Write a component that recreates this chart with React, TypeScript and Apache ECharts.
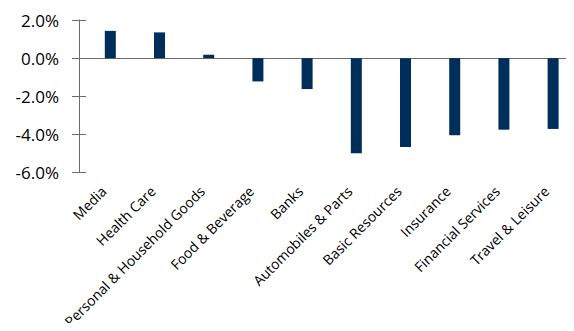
import React, { useEffect, useRef } from "react";
import * as echarts from "echarts";

const categories = [
  "Media",
  "Health Care",
  "Personal & Household Goods",
  "Food & Beverage",
  "Banks",
  "Automobiles & Parts",
  "Basic Resources",
  "Insurance",
  "Financial Services",
  "Travel & Leisure",
];
const values = [1.43, 1.35, 0.18, -1.22, -1.62, -4.98, -4.65, -4.04, -3.75, -3.71];
const emptyValues = categories.map(() => null);
const yMin = -6;
const yMax = 2;
const yStep = 2;

export default function App() {
  const ref = useRef<HTMLDivElement>(null);
  useEffect(() => {
    if (!ref.current) return;
    const chart = echarts.init(ref.current, null, { renderer: "svg" });
    const axisColor = "#6b6b6b";
    chart.setOption({
      animation: false,
      grid: { left: 79, right: 3, top: 20, bottom: 157, containLabel: false },
      xAxis: [
        {
          type: "category",
          data: categories,
          position: "bottom",
          axisLine: { onZero: true, lineStyle: { color: axisColor, width: 1 } },
          axisTick: { inside: true, length: 5, lineStyle: { color: axisColor } },
          axisLabel: { show: false },
          splitLine: { show: false },
        },
        {
          type: "category",
          data: categories,
          position: "bottom",
          axisLine: { show: false, onZero: false },
          axisTick: { show: false },
          axisLabel: {
            rotate: 45,
            margin: 16,
            color: "#000",
            fontFamily: "Open Sans",
            fontSize: 14,
            interval: 0,
          },
          splitLine: { show: false },
        },
      ],
      yAxis: [
        {
          type: "value",
          min: yMin,
          max: yMax,
          interval: yStep,
          position: "left",
          axisLine: { show: true, lineStyle: { color: axisColor } },
          axisTick: { show: true, length: 7, lineStyle: { color: axisColor } },
          axisLabel: {
            margin: 20,
            color: "#000",
            fontFamily: "Open Sans",
            fontSize: 17,
            formatter: (v: number) => v.toFixed(1) + "%",
          },
          splitLine: { show: false },
        },
        {
          type: "value",
          min: yMin,
          max: yMax,
          interval: yStep,
          position: "left",
          axisLine: { show: false },
          axisTick: { show: true, inside: true, length: 7, lineStyle: { color: axisColor } },
          axisLabel: { show: false },
          splitLine: { show: false },
        },
      ],
      series: [
        {
          type: "bar",
          data: emptyValues,
          xAxisIndex: 0,
          yAxisIndex: 0,
          barWidth: 11,
          barGap: "22%",
        },
        {
          type: "bar",
          data: values,
          xAxisIndex: 0,
          yAxisIndex: 0,
          barWidth: 11,
          barGap: "22%",
          itemStyle: { color: "#002E5B" },
        },
      ],
    });
    return () => chart.dispose();
  }, []);
  return <div ref={ref} style={{ width: 574, height: 331, margin: -8 }} />;
}
